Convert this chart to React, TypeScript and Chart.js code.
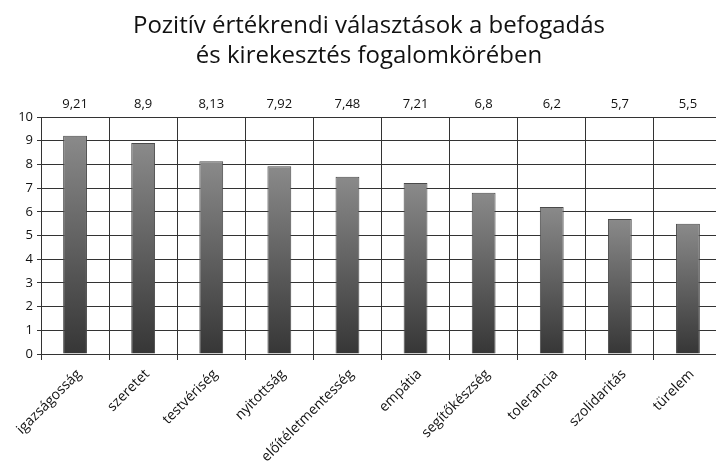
import React, { useEffect, useRef } from "react";
import { Chart, registerables } from "chart.js";
Chart.register(...registerables);

const titleLines = ["Pozitív értékrendi választások a befogadás", "és kirekesztés fogalomkörében"];
const categories = ["igazságosság", "szeretet", "testvériség", "nyitottság", "előítéletmentesség", "empátia", "segítőkészség", "tolerancia", "szolidaritás", "türelem"];
const values = [9.21, 8.9, 8.13, 7.92, 7.48, 7.21, 6.8, 6.2, 5.7, 5.5];
const valueLabels = ["9,21", "8,9", "8,13", "7,92", "7,48", "7,21", "6,8", "6,2", "5,7", "5,5"];
const yMin = 0;
const yMax = 10;
const yStep = 1;

const FONT = "'Open Sans', 'DejaVu Sans', sans-serif";

export default function App() {
  const ref = useRef<HTMLCanvasElement>(null);
  useEffect(() => {
    document.body.style.margin = "0";
    document.body.style.overflow = "hidden";
    const textPlugin = {
      id: "texts",
      afterDraw(chart: any) {
        const { ctx, chartArea } = chart;
        const meta = chart.getDatasetMeta(0);
        ctx.save();
        ctx.fillStyle = "#111";
        ctx.textAlign = "center";
        ctx.textBaseline = "alphabetic";
        ctx.font = "24px " + FONT;
        titleLines.forEach((t, i) => ctx.fillText(t, 369, 33 + i * 30));
        ctx.textBaseline = "middle";
        ctx.font = "13px " + FONT;
        meta.data.forEach((el: any, i: number) => {
          ctx.fillText(valueLabels[i], el.x, chartArea.top - 13);
        });
        ctx.restore();
      },
    };
    const chart = new Chart(ref.current as HTMLCanvasElement, {
      type: "bar",
      data: {
        labels: categories,
        datasets: [
          {
            data: values,
            backgroundColor: (c: any) => {
              const ch = c.chart;
              const area = ch.chartArea;
              if (!area || !ch.scales.y) return "#666";
              const top = ch.scales.y.getPixelForValue(values[c.dataIndex]);
              const g = ch.ctx.createLinearGradient(0, top, 0, area.bottom);
              g.addColorStop(0, "#8a8a8a");
              g.addColorStop(1, "#363636");
              return g;
            },
            borderColor: "#4a4a4a",
            borderWidth: 1,
            barPercentage: 0.35,
            categoryPercentage: 1,
          },
        ],
      },
      options: {
        responsive: false,
        animation: false,
        layout: { padding: { left: 0, top: 117, right: 0, bottom: 0 } },
        plugins: {
          legend: { display: false },
          tooltip: { enabled: false },
          title: { display: false },
        },
        scales: {
          x: {
            grid: { offset: true, color: "#333", tickLength: 6 },
            border: { color: "#333" },
            ticks: { minRotation: 45, maxRotation: 45, font: { size: 14, family: FONT }, color: "#111", padding: 6, labelOffset: 4 },
            afterFit: (s: any) => {
              s.height = 111;
            },
          },
          y: {
            min: yMin,
            max: yMax,
            ticks: { stepSize: yStep, font: { size: 13, family: FONT }, color: "#111", padding: 4 },
            grid: { color: "#333", tickLength: 4 },
            border: { color: "#333" },
            afterFit: (s: any) => {
              s.width = 41;
            },
          },
        },
      },
      plugins: [textPlugin],
    });
    return () => chart.destroy();
  }, []);
  return <canvas ref={ref} width={722} height={465} style={{ display: "block" }} />;
}
